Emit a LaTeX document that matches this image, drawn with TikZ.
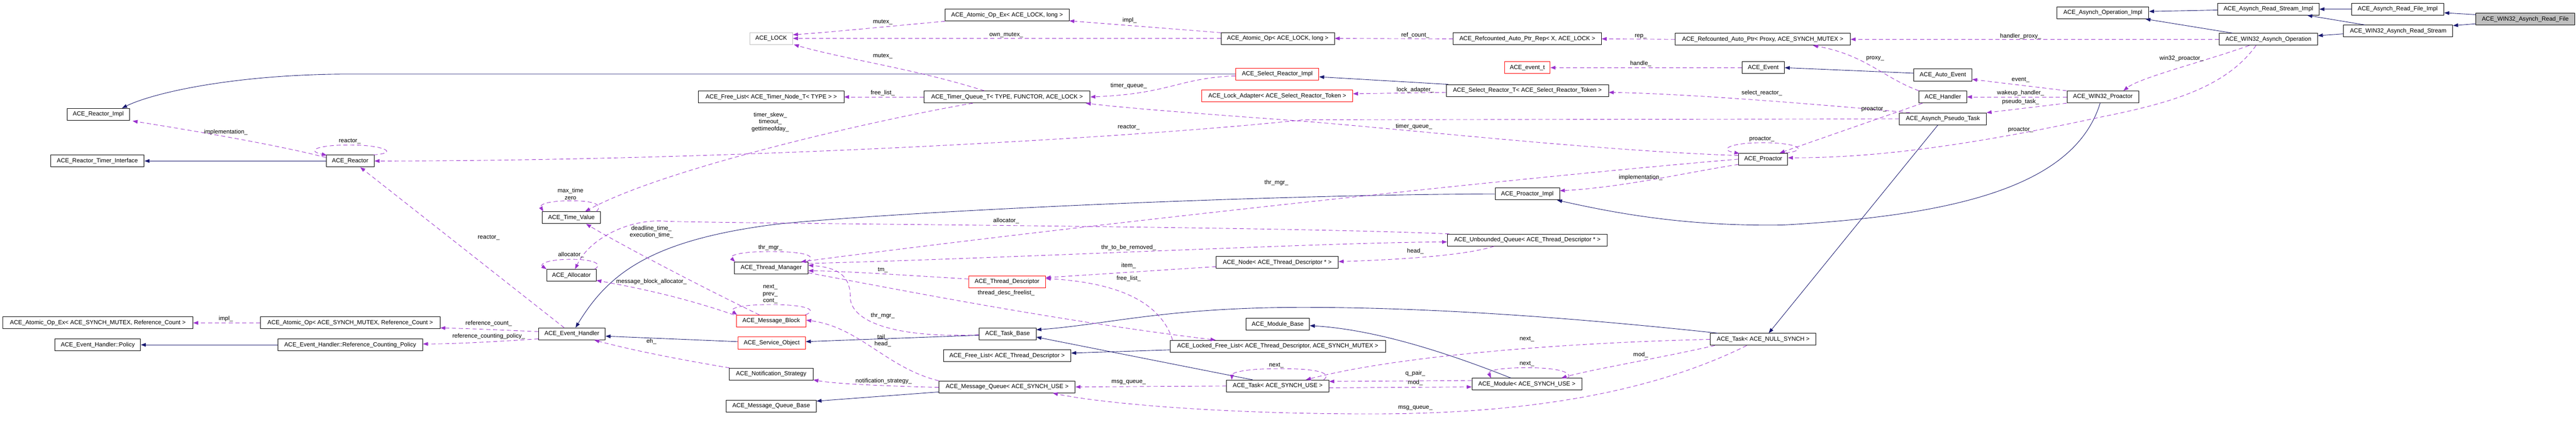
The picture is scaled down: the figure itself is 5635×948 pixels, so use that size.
\documentclass[tikz,border=0pt]{standalone}
\usepackage{fontspec}
\setmainfont{Liberation Sans}
\usetikzlibrary{arrows.meta,calc}
\definecolor{inhc}{HTML}{191970}
\definecolor{usec}{HTML}{9A32CD}
\definecolor{redb}{HTML}{FF0000}
\definecolor{grayf}{HTML}{BFBFBF}
\tikzset{
 cls/.style={draw=black, line width=1.1pt, fill=white, rectangle, inner sep=0pt, minimum height=26pt, font=\fontsize{13}{15}\selectfont},
 lbl/.style={inner sep=0pt, font=\fontsize{13}{15.5}\selectfont, align=center},
 inhedge/.style={draw=inhc, line width=1pt, -{Triangle[length=11pt,width=8pt]}},
 usedge/.style={draw=usec, line width=1pt, dash pattern=on 9pt off 6pt, -{Triangle[length=11pt,width=8pt]}},
}
\newcommand\clsnode[6]{\node[cls,#1,minimum width=#5pt] (#2) at (#3,#4) {#6};}
\newcommand\lb[4]{\node[lbl] (#1) at (#2,#3) {#4};}
\begin{document}
\begin{tikzpicture}[x=1pt,y=-1pt]
\useasboundingbox (0,0) rectangle (5635,948);
% nodes
\clsnode{fill=grayf}{rf}{5524}{42}{216}{ACE\_WIN32\_Asynch\_Read\_File}
\clsnode{}{rfi}{5245}{20}{202}{ACE\_Asynch\_Read\_File\_Impl}
\clsnode{}{rs}{5246}{68}{239}{ACE\_WIN32\_Asynch\_Read\_Stream}
\clsnode{}{rsi}{4962}{20}{222}{ACE\_Asynch\_Read\_Stream\_Impl}
\clsnode{}{wao}{4962}{86}{215}{ACE\_WIN32\_Asynch\_Operation}
\clsnode{}{aoi}{4600}{28}{201}{ACE\_Asynch\_Operation\_Impl}
\clsnode{}{rap}{3856}{86}{383}{ACE\_Refcounted\_Auto\_Ptr< Proxy, ACE\_SYNCH\_MUTEX >}
\clsnode{}{rapr}{3341}{85}{324}{ACE\_Refcounted\_Auto\_Ptr\_Rep< X, ACE\_LOCK >}
\clsnode{}{aol}{2795}{84}{248}{ACE\_Atomic\_Op< ACE\_LOCK, long >}
\clsnode{}{aoel}{2203}{33}{271}{ACE\_Atomic\_Op\_Ex< ACE\_LOCK, long >}
\clsnode{draw=grayf}{lock}{1687}{84}{94}{ACE\_LOCK}
\clsnode{draw=redb}{sri}{2794}{162}{182}{ACE\_Select\_Reactor\_Impl}
\clsnode{draw=redb}{la}{2794}{210}{330}{ACE\_Lock\_Adapter< ACE\_Select\_Reactor\_Token >}
\clsnode{}{srt}{3341}{198}{355}{ACE\_Select\_Reactor\_T< ACE\_Select\_Reactor\_Token >}
\clsnode{draw=redb}{evt}{3341}{148}{100}{ACE\_event\_t}
\clsnode{}{ev}{3857}{148}{93}{ACE\_Event}
\clsnode{}{ae}{4250}{164}{127}{ACE\_Auto\_Event}
\clsnode{}{hd}{4250}{212}{104}{ACE\_Handler}
\clsnode{}{w32p}{4600}{212}{157}{ACE\_WIN32\_Proactor}
\clsnode{}{apt}{4250}{260}{190}{ACE\_Asynch\_Pseudo\_Task}
\clsnode{}{pro}{3857}{348}{107}{ACE\_Proactor}
\clsnode{}{pi}{3341}{424}{141}{ACE\_Proactor\_Impl}
\clsnode{}{tn}{3857}{742}{231}{ACE\_Task< ACE\_NULL\_SYNCH >}
\clsnode{}{mod}{3340}{840}{240}{ACE\_Module< ACE\_SYNCH\_USE >}
\clsnode{}{ts}{2795}{844}{224}{ACE\_Task< ACE\_SYNCH\_USE >}
\clsnode{}{mb}{2795}{709}{139}{ACE\_Module\_Base}
\clsnode{}{lfl}{2795}{757}{471}{ACE\_Locked\_Free\_List< ACE\_Thread\_Descriptor, ACE\_SYNCH\_MUTEX >}
\clsnode{}{fltd}{2203}{778}{279}{ACE\_Free\_List< ACE\_Thread\_Descriptor >}
\clsnode{}{tb}{2204}{730}{125}{ACE\_Task\_Base}
\clsnode{}{mq}{2203}{846}{298}{ACE\_Message\_Queue< ACE\_SYNCH\_USE >}
\clsnode{draw=redb}{td}{2203}{616}{168}{ACE\_Thread\_Descriptor}
\clsnode{}{nd}{2794}{574}{267}{ACE\_Node< ACE\_Thread\_Descriptor * >}
\clsnode{}{uq}{3341}{525}{350}{ACE\_Unbounded\_Queue< ACE\_Thread\_Descriptor * >}
\clsnode{}{tq}{2203}{212}{363}{ACE\_Timer\_Queue\_T< TYPE, FUNCTOR, ACE\_LOCK >}
\clsnode{}{fltn}{1687}{212}{318}{ACE\_Free\_List< ACE\_Timer\_Node\_T< TYPE > >}
\clsnode{}{tv}{1250}{476}{128}{ACE\_Time\_Value}
\clsnode{}{alloc}{1250}{602}{108}{ACE\_Allocator}
\clsnode{}{tm}{1687}{586}{161}{ACE\_Thread\_Manager}
\clsnode{draw=redb}{msgb}{1687}{702}{152}{ACE\_Message\_Block}
\clsnode{}{eh}{1251}{730}{146}{ACE\_Event\_Handler}
\clsnode{draw=redb}{so}{1688}{750}{148}{ACE\_Service\_Object}
\clsnode{}{ns}{1687}{818}{183}{ACE\_Notification\_Strategy}
\clsnode{}{mqb}{1687}{888}{197}{ACE\_Message\_Queue\_Base}
\clsnode{}{ri}{215}{250}{137}{ACE\_Reactor\_Impl}
\clsnode{}{rti}{213}{352}{205}{ACE\_Reactor\_Timer\_Interface}
\clsnode{}{re}{766}{352}{105}{ACE\_Reactor}
\clsnode{}{aoesm}{214}{706}{416}{ACE\_Atomic\_Op\_Ex< ACE\_SYNCH\_MUTEX, Reference\_Count >}
\clsnode{}{aosm}{766}{706}{393}{ACE\_Atomic\_Op< ACE\_SYNCH\_MUTEX, Reference\_Count >}
\clsnode{}{pol}{214}{754}{187}{ACE\_Event\_Handler::Policy}
\clsnode{}{rcp}{766}{754}{317}{ACE\_Event\_Handler::Reference\_Counting\_Policy}
% inheritance
\draw[inhedge] ($(rf.west)+(0,-10)$) -- ($(rfi.east)+(0,8)$);
\draw[inhedge] ($(rf.west)+(0,10)$) -- ($(rs.east)+(0,-12)$);
\draw[inhedge] (rfi.west) -- (rsi.east);
\draw[inhedge] ($(rs.north)+(-73,0)$) -- ($(rsi.south)+(85,0)$);
\draw[inhedge] ($(rs.west)+(0,6)$) -- ($(wao.east)+(0,-8)$);
\draw[inhedge] ($(rsi.west)+(0,2)$) -- ($(aoi.east)+(0,-3)$);
\draw[inhedge] ($(wao.north)+(-78,0)$) -- ($(aoi.south east)+(-8,0)$);
\draw[inhedge] ($(srt.north west)+(5,0)$) -- ($(sri.east)+(0,6)$);
\draw[inhedge] (sri.west) -- (750,162) .. controls (500,164) and (330,205) .. ($(ri.north)+(52,0)$);
\draw[inhedge] (re.west) -- (rti.east);
\draw[inhedge] (rcp.west) -- (pol.east);
\draw[inhedge] ($(ae.west)+(0,-4)$) -- (ev.east);
\draw[inhedge] ($(w32p.south)+(-6,0)$) .. controls (4540,400) and (4300,470) .. (3900,492) .. controls (3700,495) and (3550,470) .. ($(pi.south east)+(-6,0)$);
\draw[inhedge] (pi.west) .. controls (2800,425) and (2000,460) .. (1700,490) .. controls (1420,525) and (1330,600) .. ($(eh.north)+(8,0)$);
\draw[inhedge] ($(so.west)+(0,-3)$) -- ($(eh.east)+(0,5)$);
\draw[inhedge] ($(tb.west)+(0,3)$) -- ($(so.east)+(0,-3)$);
\draw[inhedge] ($(ts.north)+(-55,0)$) -- ($(tb.east)+(0,7)$);
\draw[inhedge] ($(tn.north west)+(17,0)$) .. controls (3400,690) and (3100,672) .. (2850,672) .. controls (2550,672) and (2420,710) .. ($(tb.east)+(0,-9)$);
\draw[inhedge] ($(apt.south)+(-11,0)$) -- ($(tn.north)+(12,0)$);
\draw[inhedge] ($(lfl.west)+(0,8)$) -- ($(fltd.east)+(0,-6)$);
\draw[inhedge] ($(mod.north)+(-35,0)$) .. controls (3150,765) and (3000,720) .. ($(mb.east)+(0,3)$);
\draw[inhedge] ($(mq.west)+(0,11)$) -- ($(mqb.east)+(0,-11)$);
% usage
\draw[usedge] (wao.west) -- (rap.east);
\draw[usedge] ($(wao.south)+(-42,0)$) .. controls (4820,135) and (4680,170) .. ($(w32p.north)+(45,0)$);
\draw[usedge] ($(wao.south)+(-27,0)$) .. controls (4870,190) and (4750,225) .. (4600,255) .. controls (4300,320) and (4100,345) .. ($(pro.east)+(0,-3)$);
\draw[usedge] (rap.west) -- (rapr.east);
\draw[usedge] (rapr.west) -- (aol.east);
\draw[usedge] ($(aol.north west)+(0,1)$) -- ($(aoel.south east)+(0,-1)$);
\draw[usedge] (aol.west) -- (lock.east);
\draw[usedge] (aoel.south west) .. controls (1950,57) and (1820,70) .. ($(lock.east)+(0,-8)$);
\draw[usedge] ($(tq.north)+(-50,0)$) .. controls (2000,150) and (1850,130) .. ($(lock.south east)+(2,0)$);
\draw[usedge] (tq.west) -- (fltn.east);
\draw[usedge] ($(tq.south)+(-75,0)$) .. controls (1900,265) and (1450,370) .. ($(tv.north)+(30,0)$);
\draw[usedge] ($(tv.north east)+(-10,0)$) .. controls (1320,448) and (1300,439) .. (1250,439) .. controls (1195,439) and (1180,448) .. ($(tv.north west)+(3,0)$);
\draw[usedge] ($(sri.west)+(0,4)$) .. controls (2580,170) and (2560,205) .. (tq.east);
\draw[usedge] ($(pro.west)+(0,-8)$) .. controls (3500,330) and (3100,285) .. (2850,265) .. controls (2600,247) and (2450,235) .. ($(tq.south east)+(-10,0)$);
\draw[usedge] ($(srt.west)+(0,4)$) -- ($(la.east)+(0,-5)$);
\draw[usedge] ($(apt.north west)+(23,0)$) .. controls (4000,230) and (3700,205) .. ($(srt.east)+(0,4)$);
\draw[usedge] (apt.west) -- (2850,262) .. controls (2500,300) and (1600,352) .. (re.east);
\draw[usedge] (w32p.north west) -- ($(ae.south east)+(0,-4)$);
\draw[usedge] (w32p.west) -- (hd.east);
\draw[usedge] (w32p.south west) -- (apt.north east);
\draw[usedge] (ev.west) -- (evt.east);
\draw[usedge] (hd.north west) .. controls (4120,170) and (4080,120) .. ($(rap.south)+(110,0)$);
\draw[usedge] ($(hd.south west)+(8,0)$) -- ($(pro.north east)+(-18,0)$);
\draw[usedge] ($(pro.north east)+(-5,0)$) .. controls (3960,328) and (3930,312) .. (3857,312) .. controls (3780,312) and (3760,328) .. ($(pro.north west)+(2,1)$);
\draw[usedge] ($(pro.south west)+(0,-2)$) .. controls (3700,375) and (3550,410) .. ($(pi.east)+(0,-7)$);
\draw[usedge] (pro.west) .. controls (3300,390) and (2300,500) .. ($(tm.north east)+(-16,0)$);
\draw[usedge] ($(tm.north east)+(-4,0)$) .. controls (1790,560) and (1760,550) .. (1687,550) .. controls (1610,550) and (1595,560) .. ($(tm.north west)+(2,0)$);
\draw[usedge] ($(tm.east)+(0,-10)$) .. controls (2200,565) and (2900,530) .. ($(uq.west)+(0,4)$);
\draw[usedge] ($(td.west)+(0,-6)$) .. controls (1950,600) and (1850,593) .. ($(tm.east)+(0,6)$);
\draw[usedge] ($(tm.south east)+(0,-3)$) .. controls (1950,630) and (2300,700) .. ($(lfl.north)+(-136,0)$);
\draw[usedge] ($(nd.west)+(0,9)$) -- ($(td.east)+(0,-9)$);
\draw[usedge] ($(lfl.north west)+(6,0)$) .. controls (2545,680) and (2480,620) .. ($(td.east)+(0,-7)$);
\draw[usedge] ($(uq.south)+(-73,0)$) .. controls (3200,560) and (3050,568) .. ($(nd.east)+(0,-2)$);
\draw[usedge] ($(uq.north west)+(5,0)$) .. controls (2800,495) and (1700,490) .. (1460,484) .. controls (1380,476) and (1290,520) .. ($(alloc.north)+(8,0)$);
\draw[usedge] ($(alloc.north east)+(-4,0)$) .. controls (1320,578) and (1300,567) .. (1250,567) .. controls (1195,567) and (1180,578) .. (alloc.north west);
\draw[usedge] ($(msgb.north)+(-26,0)$) .. controls (1500,610) and (1350,530) .. ($(tv.south)+(32,0)$);
\draw[usedge] ($(msgb.north west)+(-5,0)$) .. controls (1480,645) and (1370,625) .. ($(alloc.east)+(0,11)$);
\draw[usedge] ($(msgb.north east)+(-2,0)$) .. controls (1790,678) and (1765,666) .. (1687,666) .. controls (1610,666) and (1595,676) .. ($(msgb.north west)+(2,0)$);
\draw[usedge] (mq.north west) .. controls (1940,805) and (1880,715) .. ($(msgb.east)+(0,-2)$);
\draw[usedge] ($(tb.west)+(0,2)$) .. controls (1950,740) and (1860,700) .. (1860,650) .. controls (1860,600) and (1830,585) .. ($(tm.east)+(0,-6)$);
\draw[usedge] ($(eh.north)+(-17,0)$) -- ($(re.south)+(22,0)$);
\draw[usedge] ($(eh.west)+(0,-5)$) .. controls (1100,722) and (1050,719) .. ($(aosm.east)+(0,11)$);
\draw[usedge] ($(eh.west)+(0,11)$) .. controls (1100,746) and (1000,752) .. ($(rcp.east)+(0,-2)$);
\draw[usedge] (aosm.west) -- (aoesm.east);
\draw[usedge] ($(ns.north west)+(1,0)$) .. controls (1480,785) and (1380,765) .. ($(eh.south)+(49,0)$);
\draw[usedge] ($(mq.west)+(0,1)$) .. controls (1900,843) and (1820,838) .. ($(ns.south east)+(0,-1)$);
\draw[usedge] (ts.west) -- (mq.east);
\draw[usedge] ($(tn.south west)+(80,0)$) .. controls (3650,840) and (3400,905) .. (3000,905) .. controls (2650,905) and (2400,880) .. ($(mq.south)+(100,0)$);
\draw[usedge] (tn.west) .. controls (3400,750) and (3050,780) .. ($(ts.north east)+(-51,0)$);
\draw[usedge] ($(ts.north east)+(-12,0)$) .. controls (2915,815) and (2880,806) .. (2800,806) .. controls (2720,806) and (2695,815) .. ($(ts.north west)+(12,0)$);
\draw[usedge] ($(ts.east)+(0,4)$) -- ($(mod.west)+(0,6)$);
\draw[usedge] ($(mod.west)+(0,-8)$) -- ($(ts.east)+(0,-10)$);
\draw[usedge] ($(mod.north east)+(-30,0)$) .. controls (3440,812) and (3400,804) .. (3341,804) .. controls (3270,804) and (3255,812) .. ($(mod.north west)+(42,0)$);
\draw[usedge] ($(tn.south west)+(10,0)$) .. controls (3620,785) and (3480,808) .. ($(mod.north east)+(-45,0)$);
\draw[usedge] ($(re.north east)+(-2,0)$) .. controls (875,335) and (840,317) .. (766,317) .. controls (690,317) and (670,330) .. ($(re.north west)+(2,1)$);
\draw[usedge] ($(re.north west)+(0,6)$) .. controls (620,320) and (450,290) .. ($(ri.south east)+(6,1)$);
% labels
\lb{l1}{4420}{79}{handler\_proxy\_}
\lb{l2}{4772}{128}{win32\_proactor\_}
\lb{l3}{4420}{284}{proactor\_}
\lb{l4}{3589}{79}{rep\_}
\lb{l5}{3096}{77}{ref\_count\_}
\lb{l6}{2471}{44}{impl\_}
\lb{l7}{2201}{76}{own\_mutex\_}
\lb{l8}{1931}{48}{mutex\_}
\lb{l9}{1931}{123}{mutex\_}
\lb{l10}{1931}{203}{free\_list\_}
\lb{l11}{1685}{267}{timer\_skew\_\\timeout\_\\gettimeofday\_}
\lb{l12}{1248}{424}{max\_time\\zero}
\lb{l13}{2469}{188}{timer\_queue\_}
\lb{l14}{3093}{277}{timer\_queue\_}
\lb{l15}{3096}{197}{lock\_adapter\_}
\lb{l16}{3854}{203}{select\_reactor\_}
\lb{l17}{2469}{278}{reactor\_}
\lb{l18}{4420}{175}{event\_}
\lb{l19}{4420}{203}{wakeup\_handler\_}
\lb{l20}{4420}{223}{pseudo\_task\_}
\lb{l21}{3589}{139}{handle\_}
\lb{l22}{4102}{128}{proxy\_}
\lb{l23}{4099}{239}{proactor\_}
\lb{l24}{3854}{304}{proactor\_}
\lb{l25}{3589}{388}{implementation\_}
\lb{l26}{2792}{400}{thr\_mgr\_}
\lb{l27}{1685}{541}{thr\_mgr\_}
\lb{l28}{2469}{541}{thr\_to\_be\_removed\_}
\lb{l29}{1931}{591}{tm\_}
\lb{l30}{2201}{641}{thread\_desc\_freelist\_}
\lb{l31}{2469}{581}{item\_}
\lb{l32}{2469}{609}{free\_list\_}
\lb{l33}{3096}{549}{head\_}
\lb{l34}{2201}{483}{allocator\_}
\lb{l35}{1249}{557}{allocator\_}
\lb{l36}{1425}{507}{deadline\_time\_\\execution\_time\_}
\lb{l37}{1425}{616}{message\_block\_allocator\_}
\lb{l38}{1685}{643}{next\_\\prev\_\\cont\_}
\lb{l39}{1931}{745}{tail\_\\head\_}
\lb{l40}{1931}{690}{thr\_mgr\_}
\lb{l41}{1069}{520}{reactor\_}
\lb{l42}{1069}{707}{reference\_count\_}
\lb{l43}{1069}{735}{reference\_counting\_policy\_}
\lb{l44}{494}{697}{impl\_}
\lb{l45}{1425}{747}{eh\_}
\lb{l46}{1933}{833}{notification\_strategy\_}
\lb{l47}{2469}{836}{msg\_queue\_}
\lb{l48}{3096}{892}{msg\_queue\_}
\lb{l49}{3340}{741}{next\_}
\lb{l50}{2792}{799}{next\_}
\lb{l51}{3096}{837}{mod\_}
\lb{l52}{3096}{817}{q\_pair\_}
\lb{l53}{3340}{796}{next\_}
\lb{l54}{3589}{776}{mod\_}
\lb{l55}{765}{309}{reactor\_}
\lb{l56}{494}{289}{implementation\_}
\end{tikzpicture}
\end{document}
